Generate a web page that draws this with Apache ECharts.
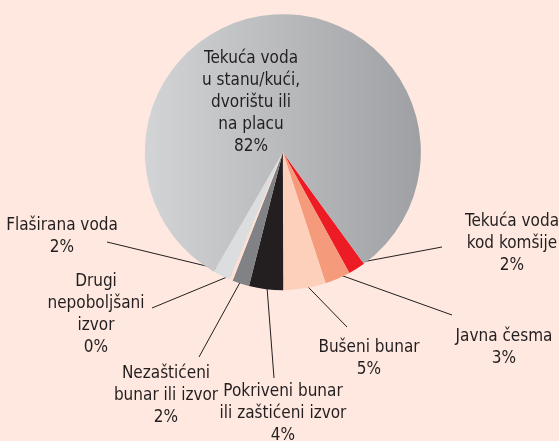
<!DOCTYPE html>
<html>
<head>
<meta charset="utf-8">
<script src="https://cdn.jsdelivr.net/npm/echarts@6/dist/echarts.min.js"></script>
<style>
html,body{margin:0;padding:0;background:#FEE8DF;}
#c{width:559px;height:441px;}
</style>
</head>
<body>
<div id="c"></div>
<script>
// Data (percentages), clockwise from the red slice
const categories = [
  'Tekuća voda\nkod komšije',
  'Javna česma',
  'Bušeni bunar',
  'Pokriveni bunar\nili zaštićeni izvor',
  'Nezaštićeni\nbunar ili izvor',
  'Drugi\nnepoboljšani\nizvor',
  'Flaširana voda',
  'Tekuća voda\nu stanu/kući,\ndvorištu ili\nna placu'
];
const values = [2, 3, 5, 4, 2, 0.4, 2, 82];

const grayGrad = new echarts.graphic.LinearGradient(0, 0, 1, 0, [
  {offset: 0, color: '#D2D4D6'},
  {offset: 1, color: '#9EA0A3'}
]);
const colors = ['#ED1C24', '#F59A7A', '#FDD0BC', '#231F20', '#808285', '#FDE0D3', '#DCDDDF', grayGrad];

// label block positions (centre-top of each text block) and leader-line ends at the label
const labelPos = [
  [512, 211], [504, 326], [369, 337], [283, 381], [166, 363], [96, 271], [62, 215], [251, 48]
];
const lineEnd = [
  [442, 247], [452, 315], [347, 327], [274, 378], [199, 357], [152, 308], [107, 242], null
];
const FONT = "'DejaVu Sans Condensed','Liberation Sans Narrow',sans-serif";

const center = ['50.6%', '34.5%'];
const chart = echarts.init(document.getElementById('c'));
chart.setOption({
  backgroundColor: '#FEE8DF',
  animation: false,
  series: [
    {
      type: 'pie',
      silent: true,
      center: center,
      radius: 138,
      startAngle: -54,
      clockwise: true,
      label: {show: false},
      labelLine: {show: false},
      itemStyle: {borderWidth: 0},
      data: categories.map((n, i) => ({name: n, value: values[i], itemStyle: {color: colors[i]}}))
    },
    {
      type: 'pie',
      silent: true,
      center: center,
      radius: 132,
      startAngle: -54,
      clockwise: true,
      itemStyle: {color: 'rgba(0,0,0,0)', borderWidth: 0},
      label: {
        show: true,
        position: 'outside',
        fontFamily: FONT,
        fontSize: 17,
        lineHeight: 22,
        color: '#231F20',
        align: 'center',
        formatter: p => p.name + '\n' + Math.round(p.value) + '%'
      },
      labelLine: {show: true, length: 10, length2: 0, lineStyle: {color: '#231F20', width: 1}},
      labelLayout: function (params) {
        const i = params.dataIndex;
        const p = labelPos[i];
        const out = {x: p[0], y: p[1], align: 'center', verticalAlign: 'top'};
        if (lineEnd[i] && params.labelLinePoints) {
          out.labelLinePoints = [params.labelLinePoints[0], lineEnd[i]];
        }
        return out;
      },
      data: categories.map((n, i) => ({
        name: n, value: values[i],
        labelLine: i === 7 ? {show: false} : undefined
      }))
    }
  ]
});
</script>
</body>
</html>
